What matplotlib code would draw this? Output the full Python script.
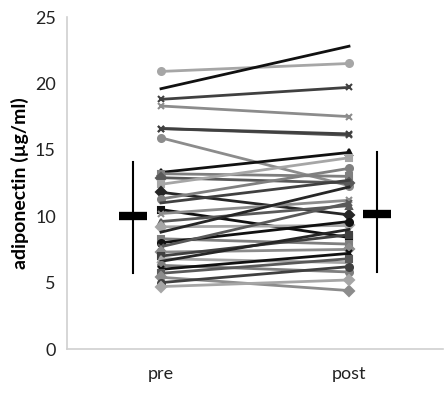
import numpy as np
import matplotlib.pyplot as plt

# paired adiponectin values (ug/ml)
pre = [20.9, 19.6, 18.8, 18.3, 16.6, 16.6, 15.9, 13.3, 13.2, 12.9, 12.4, 11.8,
       11.3, 11.0, 10.5, 10.2, 9.6, 9.2, 8.8, 8.3, 8.0, 7.7, 7.3, 7.0,
       6.8, 6.6, 6.3, 6.0, 5.7, 5.4, 5.0, 4.7]
post = [21.5, 22.8, 19.7, 17.5, 16.1, 16.2, 12.3, 14.8, 13.0, 12.5, 14.4, 10.1,
        13.6, 12.7, 8.4, 11.2, 10.8, 9.3, 12.2, 7.9, 9.6, 11.0, 7.5, 8.6,
        6.5, 9.0, 5.8, 7.2, 6.8, 4.4, 6.2, 5.2]
groups = ['pre', 'post']
group_mean = [10.0, 10.2]
group_sd_low = [5.7, 5.8]
group_sd_high = [14.1, 14.8]

colors = ['#a6a6a6', '#111111', '#404040', '#8c8c8c', '#555555', '#404040',
          '#8c8c8c', '#111111', '#7f7f7f', '#595959', '#a6a6a6', '#262626',
          '#7f7f7f', '#404040', '#111111', '#8c8c8c', '#595959', '#a6a6a6',
          '#262626', '#7f7f7f', '#111111', '#595959', '#8c8c8c', '#404040',
          '#a6a6a6', '#262626', '#7f7f7f', '#111111', '#595959', '#8c8c8c',
          '#404040', '#a6a6a6']
markers = ['o', '', 'x', 'x', 'x', 'x', 'o', '^', 's', 'D', 's', 'D',
           'o', '', 's', 'x', '^', 'D', '', 's', 'o', 'x', 'D', 's',
           '^', '', 'o', 'x', 's', 'D', 'o', 'D']

xpos = [0.5, 1.5]

fig = plt.figure(figsize=(4.48, 3.96), dpi=100)
ax = fig.add_axes([67/448, 47/396, 376/448, 332/396])

for i in range(len(pre)):
    ax.plot(xpos, [pre[i], post[i]], color=colors[i], lw=2, marker=markers[i],
            ms=5, mew=1.5, zorder=2)

sd_x = [0.35, 1.65]
for j in range(2):
    ax.plot([sd_x[j], sd_x[j]], [group_sd_low[j], group_sd_high[j]],
            color='black', lw=1.5, zorder=3)
    ax.plot(sd_x[j], group_mean[j], marker='_', ms=20, mew=6,
            color='black', zorder=4)

ax.set_xlim(0, 2)
ax.set_ylim(0, 25)
ax.set_yticks([0, 5, 10, 15, 20, 25])
ax.set_xticks(xpos)
ax.set_xticklabels(groups)
ax.tick_params(length=0, labelsize=13, pad=8)
ax.tick_params(axis='x', pad=12)
for s in ['top', 'right']:
    ax.spines[s].set_visible(False)
for s in ['left', 'bottom']:
    ax.spines[s].set_color('#d0d0d0')
    ax.spines[s].set_linewidth(1.2)
for lab in ax.get_xticklabels() + ax.get_yticklabels():
    lab.set_family('Lato')
    lab.set_color('#222222')
ax.set_ylabel('adiponectin (µg/ml)', fontsize=14, fontweight='bold',
              family='Lato', labelpad=4)

fig.savefig('out.png', dpi=100)
